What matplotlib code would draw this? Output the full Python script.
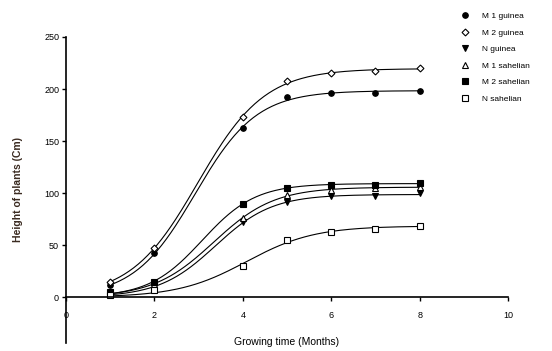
import numpy as np
import matplotlib
matplotlib.use('Agg')
import matplotlib.pyplot as plt

# months measured
months = [1, 2, 4, 5, 6, 7, 8]

# plant height (cm)
m1_guinea = [12, 42, 163, 192, 196, 196, 198]
m2_guinea = [15, 47, 173, 208, 215, 217, 220]
n_guinea = [3, 10, 72, 91, 97, 97, 100]
m1_sahelian = [4, 13, 76, 98, 103, 105, 106]
m2_sahelian = [5, 15, 90, 105, 108, 108, 110]
n_sahelian = [2, 7, 30, 55, 63, 66, 68]

labels = ['M 1 guinea', 'M 2 guinea', 'N guinea', 'M 1 sahelian', 'M 2 sahelian', 'N sahelian']
series = [m1_guinea, m2_guinea, n_guinea, m1_sahelian, m2_sahelian, n_sahelian]
markers = ['o', 'D', 'v', '^', 's', 's']
fills = ['k', 'white', 'k', 'white', 'k', 'white']


def logistic_fit(x, y):
    # grid search over rate and midpoint, K solved by least squares
    x = np.asarray(x, float)
    y = np.asarray(y, float)
    best = None
    for r in np.linspace(0.5, 3.0, 126):
        for x0 in np.linspace(2.0, 5.0, 151):
            f = 1.0 / (1.0 + np.exp(-r * (x - x0)))
            K = (y @ f) / (f @ f)
            err = np.sum((y - K * f) ** 2)
            if best is None or err < best[0]:
                best = (err, K, r, x0)
    return best[1:]


plt.rcParams['font.family'] = ['Liberation Sans', 'DejaVu Sans']
fig = plt.figure(figsize=(5.52, 3.51), dpi=100)
ax = fig.add_axes([0.1196, 0.0228, 0.8008, 0.8718])

xs = np.linspace(1, 8, 200)
handles = []
for vals, lab, mk, fc in zip(series, labels, markers, fills):
    K, r, x0 = logistic_fit(months, vals)
    ax.plot(xs, K / (1 + np.exp(-r * (xs - x0))), color='k', lw=0.8)
    h, = ax.plot(months, vals, linestyle='none', marker=mk, ms=4 if mk != 'D' else 3.5,
                 mfc=fc, mec='k', mew=0.8, label=lab)
    handles.append(h)

ax.set_xlim(0, 10)
ax.set_ylim(-44, 250)
ax.set_xticks([0, 2, 4, 6, 8, 10])
ax.set_yticks([0, 50, 100, 150, 200, 250])
ax.spines['top'].set_visible(False)
ax.spines['right'].set_visible(False)
ax.spines['bottom'].set_position(('data', 0))
ax.spines['left'].set_linewidth(1.2)
ax.spines['bottom'].set_linewidth(1.2)
ax.tick_params(direction='out', length=3, width=1, labelsize=6.5, pad=2)
ax.tick_params(axis='x', pad=7)
ax.set_xlabel('Growing time (Months)', fontsize=7.5, labelpad=12)
ax.set_ylabel('Height of plants (Cm)', fontsize=7.5, fontweight='bold', color='#3a2a20')
ax.yaxis.set_label_coords(-0.098, 0.5)

fig.legend(handles=handles, loc='upper left', bbox_to_anchor=(0.828, 0.975), frameon=False,
           fontsize=6, handlelength=1.0, handletextpad=1.6, labelspacing=1.05, borderaxespad=0)

fig.savefig('out.png', dpi=100)
